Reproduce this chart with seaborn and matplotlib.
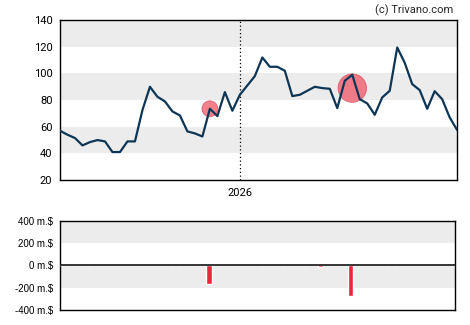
import matplotlib.pyplot as plt
import numpy as np
import pandas as pd
import seaborn as sns

# weekly closing prices
prices = [57, 54, 51.5, 46, 48.5, 50, 49, 41, 41, 49, 49, 72.5, 90, 82.5, 79,
          71.5, 68.5, 56.5, 55, 52.7, 73.5, 68, 86, 72, 84, 91, 98, 112, 105,
          105, 102, 83, 84, 87, 90, 89, 88.5, 74, 94.5, 99, 80.7, 77.5, 69, 82,
          87, 119.5, 108, 92, 87.5, 73.5, 86.7, 80.7, 67, 57.5]
# insider trades: week index, marker value, marker size, volume (m.$)
trade_weeks = [20, 35, 39]
trade_values = [73.5, None, 89]
trade_sizes = [130, 0, 420]
trade_volume = [-165, -18, -275]
year_week = 24
year_label = "2026"

weeks = np.arange(len(prices))
df = pd.DataFrame({"week": weeks, "price": prices})
vol = np.zeros(len(prices))
for w, v in zip(trade_weeks, trade_volume):
    vol[w] = v
df_vol = pd.DataFrame({"week": weeks, "volume": vol})
df_pts = pd.DataFrame({"week": trade_weeks, "price": trade_values, "size": trade_sizes}).dropna()

sns.set_style("white")
plt.rcParams["font.family"] = ["Roboto", "DejaVu Sans"]

fig = plt.figure(figsize=(4.7, 3.25), dpi=100)
ax = fig.add_axes([0.1277, 0.446, 0.845, 0.492])
ax2 = fig.add_axes([0.1277, 0.046, 0.840, 0.275])

# top chart: price line
for lo in [40, 80, 120]:
    ax.axhspan(lo, lo + 20, color="#ececec", zorder=0, lw=0)
ax.scatter(df_pts["week"], df_pts["price"], s=df_pts["size"], color="#ef5060",
           alpha=0.72, edgecolor="#d84050", lw=0.6, zorder=2.5)
sns.lineplot(data=df, x="week", y="price", ax=ax, color="#0d3656", lw=1.6, zorder=3)
ax.axvline(year_week, color="black", ls=(0, (1, 2)), lw=0.9, zorder=2)
ax.set_xlim(0, len(prices) - 1)
ax.set_ylim(20, 140)
ax.set_yticks(range(20, 141, 20))
ax.set_xticks([year_week])
ax.set_xticklabels([year_label])
ax.set_xlabel("")
ax.set_ylabel("")
ax.tick_params(axis="both", length=4, width=1, labelsize=8, colors="black", pad=1.5)
for s in ax.spines.values():
    s.set_color("black")
    s.set_linewidth(1)
fig.text(0.965, 0.985, "(c) Trivano.com", ha="right", va="top", fontsize=8)

# bottom chart: insider volume
for lo in [-200, 200]:
    ax2.axhspan(lo, lo + 200, color="#ececec", zorder=0, lw=0)
sns.barplot(data=df_vol, x="week", y="volume", ax=ax2, color="#e8283a",
            width=0.7, saturation=1, zorder=3)
ax2.axhline(0, color="black", lw=1.1, zorder=4)
ax2.set_xlim(0, len(prices) - 1)
ax2.set_ylim(-400, 400)
ax2.set_yticks(range(-400, 401, 200))
ax2.set_yticklabels([f"{v} m.$" for v in range(-400, 401, 200)], family=["Liberation Sans"])
ax2.set_xticks([])
ax2.set_xlabel("")
ax2.set_ylabel("")
ax2.tick_params(axis="y", length=4, width=1, labelsize=7, colors="black", pad=1)
for s in ax2.spines.values():
    s.set_color("black")
    s.set_linewidth(1)

fig.savefig("out.png", dpi=100)
